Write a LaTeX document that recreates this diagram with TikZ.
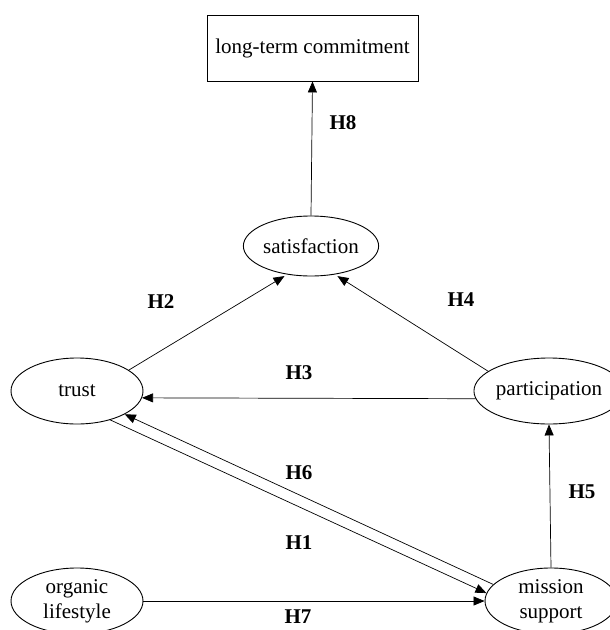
\documentclass[tikz,border=0pt]{standalone}
\usepackage{fontspec}
\setmainfont{Liberation Serif}
\usetikzlibrary{arrows.meta,shapes,positioning}

\tikzset{
  construct/.style={ellipse, draw, line width=0.9pt, inner sep=0pt,
    minimum width=132pt, minimum height=66pt, align=center,
    font=\fontsize{21}{25}\selectfont},
  hyp/.style={font=\fontsize{21}{25}\selectfont\bfseries},
  link/.style={line width=0.7pt, -{Triangle[length=11pt,width=9pt]}}
}

\begin{document}
\begin{tikzpicture}[x=1pt,y=-1pt]
	\useasboundingbox (0,0) rectangle (610,630);

	% outcome box
	\node[draw, line width=0.9pt, minimum width=211pt, minimum height=66pt,
	      font=\fontsize{21}{25}\selectfont] (ltc) at (312.5,48) {long-term commitment};

	% constructs
	\node[construct, minimum width=128pt, minimum height=60pt] (sat) at (311,246) {satisfaction};
	\node[construct] (trust) at (77,391) {trust};
	\node[construct] (part) at (549,391) {participation};
	\node[construct] (org) at (77,601) {organic\\lifestyle};
	\node[construct] (mis) at (551,601) {mission\\support};

	% paths
	\draw[link] (sat.north) -- (ltc.south);
	\draw[link, shorten >=3pt] (trust.22) -- (sat.230);
	\draw[link, shorten >=3pt] (part.162) -- (sat.310);
	\draw[link] (part.186) -- (trust.354);
	\draw[link] (mis.164) -- (trust.334);
	\draw[link] (trust.319) -- (mis.173);
	\draw[link] (org.east) -- (mis.west);
	\draw[link] (mis.north) -- (part.south);

	% hypothesis labels
	\node[hyp] (h8) at (343,123) {H8};
	\node[hyp] (h2) at (161,302) {H2};
	\node[hyp] (h4) at (461,300) {H4};
	\node[hyp] (h3) at (299,373) {H3};
	\node[hyp] (h6) at (299,473) {H6};
	\node[hyp] (h1) at (299,543) {H1};
	\node[hyp] (h5) at (582,492) {H5};
	\node[hyp] (h7) at (298,617) {H7};
\end{tikzpicture}
\end{document}
